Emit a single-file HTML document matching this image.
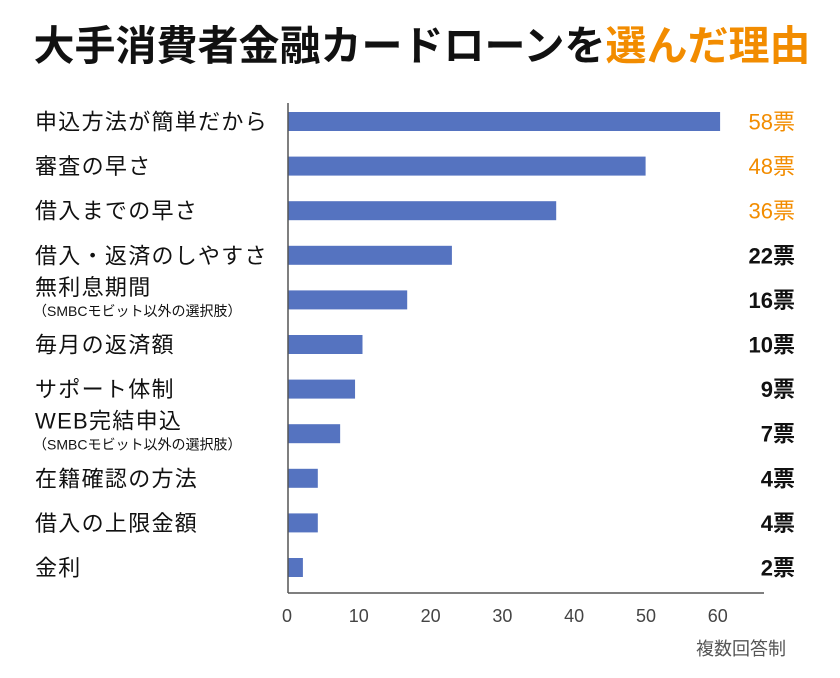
<!DOCTYPE html>
<html><head><meta charset="utf-8"><style>
body{margin:0;background:#fff;width:840px;height:673px;overflow:hidden;font-family:"Liberation Sans","Noto Sans CJK JP",sans-serif;}
</style></head><body>
<svg width="840" height="673" xmlns="http://www.w3.org/2000/svg">
<text x="422" y="60" text-anchor="middle" font-size="41" font-weight="bold" fill="#111">大手消費者金融カードローンを<tspan fill="#f28c00">選んだ理由</tspan></text>
<g id="plot"></g>
<text x="786" y="655" text-anchor="end" font-size="18" fill="#555">複数回答制</text>
</svg>
<script>
const categories=["申込方法が簡単だから","審査の早さ","借入までの早さ","借入・返済のしやすさ","無利息期間","毎月の返済額","サポート体制","WEB完結申込","在籍確認の方法","借入の上限金額","金利"];
const subLabels=["","","","","（SMBCモビット以外の選択肢）","","","（SMBCモビット以外の選択肢）","","",""];
const values=[58,48,36,22,16,10,9,7,4,4,2];
const valueLabels=["58票","48票","36票","22票","16票","10票","9票","7票","4票","4票","2票"];
const ticks=[0,10,20,30,40,50,60];
const NS="http://www.w3.org/2000/svg";
const g=document.getElementById('plot');
const x0=288,k=7.45,y0=121.5,step=44.6,bh=19;
const xs=v=>x0+v*k, ys=i=>y0+i*step;
function el(t,a,txt){const e=document.createElementNS(NS,t);for(const n in a)e.setAttribute(n,a[n]);if(txt!=null)e.textContent=txt;g.appendChild(e);return e;}
values.forEach((v,i)=>{
 const r=el('rect',{x:x0,y:ys(i)-bh/2,width:xs(v)-x0,height:bh,fill:'#5573c0'});
 
 
 const orange=i<3;
 const vt=el('text',{x:795,y:ys(i)+8,'text-anchor':'end','font-size':22,'font-weight':orange?'normal':'bold',fill:orange?'#f28c00':'#111'},valueLabels[i]);
 
 
 if(subLabels[i]){
  const c=el('text',{x:35,y:ys(i)-5,'font-size':22,'letter-spacing':1.3,fill:'#111'},categories[i]);
  
  
  const s=el('text',{x:33,y:ys(i)+16,'font-size':14,fill:'#111'},subLabels[i]);
  
  
 }else{
  const c=el('text',{x:35,y:ys(i)+8,'font-size':22,'letter-spacing':1.3,fill:'#111'},categories[i]);
  
  
 }
});
const ya=el('line',{x1:x0,y1:103,x2:x0,y2:593,stroke:'#555','stroke-width':1.5});


const xa=el('line',{x1:x0,y1:593,x2:764,y2:593,stroke:'#555','stroke-width':1.5});


ticks.forEach(t=>{
 const tl=el('text',{x:x0-1+t*7.18,y:622,'text-anchor':'middle','font-size':18,fill:'#444'},String(t));
 
 
});
</script>
</body></html>
